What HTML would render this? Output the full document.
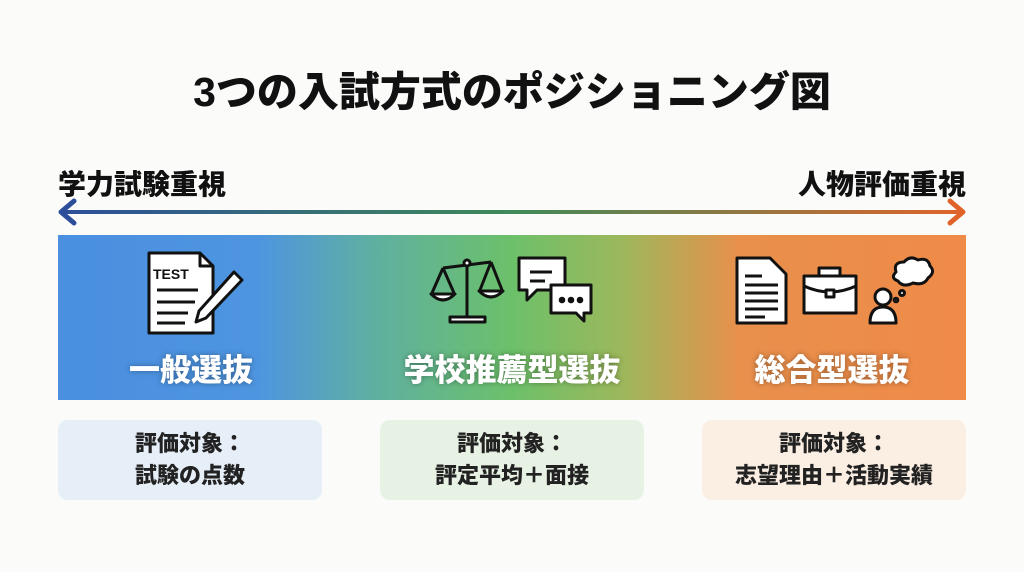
<!DOCTYPE html>
<html><head><meta charset="utf-8"><style>
body{margin:0;width:1024px;height:572px;background:#fbfbfa;position:relative;overflow:hidden;font-family:"Liberation Sans","Noto Sans CJK JP",sans-serif;}
.t{position:absolute;font-weight:900;color:#111;white-space:nowrap}
.band{position:absolute;left:58px;top:235px;width:908px;height:165px;background:linear-gradient(90deg,#4a8fe0 0%,#4e95e0 22%,#5fb0a0 35%,#6cc06a 50%,#9cb85c 62%,#e8904c 75%,#f08a48 100%);}
.lab{position:absolute;top:345px;font-size:31px;font-weight:900;color:#fff;text-shadow:0 0 6px rgba(0,0,0,.35);transform:translateX(-50%);white-space:nowrap}
.box{position:absolute;top:420px;width:264px;height:80px;border-radius:10px;text-align:center;font-size:22px;font-weight:900;color:#222;line-height:32px;padding-top:8px;box-sizing:border-box}
</style></head><body>
<div class="t" style="left:0;width:1024px;text-align:center;top:58px;font-size:41px">3つの入試方式のポジショニング図</div>
<div class="t" style="left:58px;top:163px;font-size:28px">学力試験重視</div>
<div class="t" style="right:58px;top:163px;font-size:28px">人物評価重視</div>
<svg style="position:absolute;left:0;top:0" width="1024" height="572">
<defs><linearGradient id="g" x1="0" x2="1"><stop offset="0" stop-color="#2d4f9a"/><stop offset=".5" stop-color="#3f8a5a"/><stop offset="1" stop-color="#e0642a"/></linearGradient></defs>
<rect x="62" y="210" width="900" height="4" fill="url(#g)"/>
<polyline points="74,201 61,212 74,223" fill="none" stroke="#2d4f9a" stroke-width="5" stroke-linecap="round" stroke-linejoin="round"/>
<polyline points="950,201 963,212 950,223" fill="none" stroke="#e0642a" stroke-width="5" stroke-linecap="round" stroke-linejoin="round"/>
</svg>
<div class="band"></div>
<svg style="position:absolute;left:0;top:0" width="1024" height="572" fill="#fff" stroke="#111" stroke-width="3" stroke-linejoin="round">
<path d="M149,253 H200 L213,266 V333 H149 Z"/>
<path d="M200,253 V266 H213" fill="none"/>
<text x="153" y="279" font-size="14" font-weight="900" fill="#111" stroke="none" font-family="Liberation Sans">TEST</text>
<path d="M157,290H198M157,302H195M157,313H188M157,323H185" fill="none"/>
<path d="M234,272 L242,280 L206,318 L196,322 L199,311 Z"/>
<path d="M467,262 V317 M443,268 L491,262 M443,268 L432,293 M443,268 L454,293 M491,262 L480,290 M491,262 L502,290" fill="none"/>
<circle cx="467" cy="263" r="3"/>
<path d="M431,294 Q443,306 455,294 Z M479,291 Q491,303 503,291 Z M450,317 H485 V322 H450 Z"/>
<path d="M519,258 H565 V290 H537 L527,300 V290 H519 Z"/>
<path d="M530,272H552M530,281H545" fill="none"/>
<path d="M551,285 H591 V313 H584 V321 L576,313 H551 Z"/>
<circle cx="562" cy="300" r="1.8" fill="#111"/><circle cx="571" cy="300" r="1.8" fill="#111"/><circle cx="580" cy="300" r="1.8" fill="#111"/>
<path d="M737,258 H770 L786,274 V323 H737 Z"/>
<path d="M745,276H762M745,285H778M745,293H778M745,301H778M745,309H778M745,317H765" fill="none"/>
<path d="M804,276 H856 V313 H804 Z M819,276 V268 H840 V276" />
<path d="M804,286 Q830,298 856,286" fill="none"/>
<rect x="826" y="290" width="8" height="7"/>
<circle cx="883" cy="297" r="8"/>
<path d="M870,323 Q870,307 883,307 Q896,307 896,323 Z"/>
<path d="M896,272 Q893,262 904,262 Q910,255 918,260 Q928,257 930,266 Q936,272 928,278 Q924,286 913,283 Q903,288 898,281 Q890,278 896,272 Z"/>
<circle cx="902" cy="293" r="2.5"/><circle cx="896" cy="300" r="1.8"/>
</svg>
<div class="lab" style="left:191px">一般選抜</div>
<div class="lab" style="left:512px">学校推薦型選抜</div>
<div class="lab" style="left:832px">総合型選抜</div>
<div class="box" style="left:58px;background:#e6eef8">評価対象：<br>試験の点数</div>
<div class="box" style="left:380px;background:#e7f2e4">評価対象：<br>評定平均＋面接</div>
<div class="box" style="left:702px;background:#fbeee3">評価対象：<br>志望理由＋活動実績</div>
</body></html>
